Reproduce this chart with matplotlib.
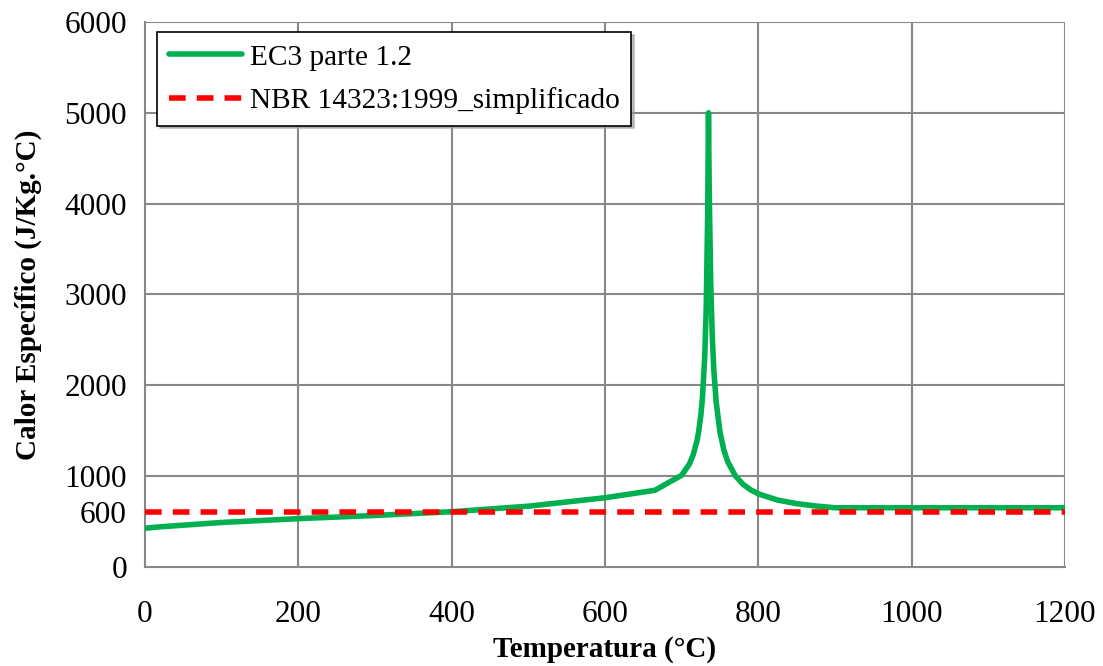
import matplotlib.pyplot as plt
import numpy as np

# valores
temp_ec3 = [0, 20, 100, 200, 300, 400, 500, 600, 665, 700, 710, 715, 720, 722, 725, 727, 730, 732,
            734, 735, 736, 738, 740, 742, 745, 750, 755, 760, 770, 780, 790, 800, 825, 850, 875, 900,
            1000, 1100, 1200]
calor_ec3 = [425, 440, 488, 530, 565, 606, 667, 760, 842, 1008, 1130, 1231, 1388, 1479, 1666, 1848, 2291, 2833,
             3916, 5000, 4109, 3091, 2525, 2165, 1818, 1483, 1287, 1159, 1002, 909, 847, 803, 735, 695, 669, 650,
             650, 650, 650]
temp_nbr = [0, 1200]
calor_nbr = [600, 600]

plt.rcParams['font.family'] = ['Liberation Serif', 'DejaVu Serif']

fig = plt.figure(figsize=(11.03, 6.66), dpi=100)
ax = fig.add_axes([0.1315, 0.149, 0.834, 0.818])

ax.plot(temp_ec3, calor_ec3, color='#00B050', lw=4, label='EC3 parte 1.2', zorder=3,
        solid_joinstyle='round', solid_capstyle='round')
ax.plot(temp_nbr, calor_nbr, color='#FF0000', lw=4, ls=(0, (3, 2)), label='NBR 14323:1999_simplificado',
        zorder=4)

ax.set_xlim(0, 1200)
ax.set_ylim(0, 6000)
ax.set_xticks(np.arange(0, 1201, 200))
ax.set_yticks([0, 600, 1000, 2000, 3000, 4000, 5000, 6000])
ax.tick_params(length=0, labelsize=22.5)
ax.tick_params(axis='x', pad=24)
ax.tick_params(axis='y', pad=13)

for y in [1000, 2000, 3000, 4000, 5000, 6000]:
    ax.axhline(y, color='#888888', lw=1.5, zorder=1)
for x in [200, 400, 600, 800, 1000, 1200]:
    ax.axvline(x, color='#888888', lw=1.5, zorder=1)
for s in ax.spines.values():
    s.set_color('#888888')
    s.set_linewidth(1.5)
ax.spines['top'].set_visible(False)
ax.spines['right'].set_visible(False)

ax.set_xlabel('Temperatura (°C)', fontsize=21, fontweight='bold', labelpad=5)
ax.set_ylabel('Calor Específico (J/Kg.°C)', fontsize=21, fontweight='bold', labelpad=16)

leg = ax.legend(loc='upper left', bbox_to_anchor=(-0.003, 1.008), fontsize=21.2, fancybox=False,
                shadow={'color': '#999999', 'alpha': 0.6}, handlelength=2.5, handletextpad=0.25,
                borderpad=0.4, labelspacing=0.55, framealpha=1, edgecolor='black')
leg.get_frame().set_linewidth(1.2)

fig.savefig('out.png', dpi=100)
